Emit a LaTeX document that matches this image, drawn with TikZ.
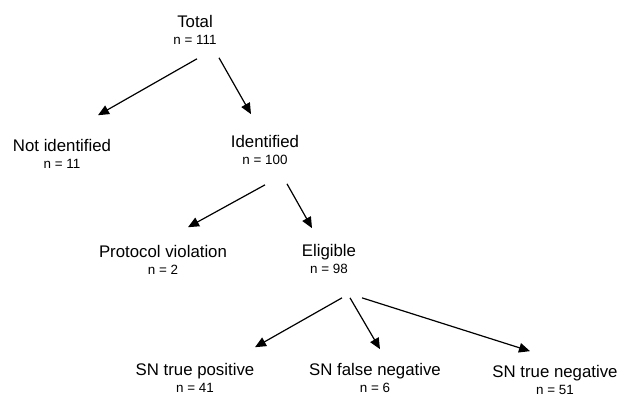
\documentclass[tikz,border=0pt]{standalone}
\usepackage{fontspec}
\setmainfont{Liberation Sans}
\usetikzlibrary{arrows.meta}
\newcommand{\nval}[1]{{\fontsize{6.7}{8}\selectfont n = #1}}
\begin{document}
\begin{tikzpicture}[x=0.5pt, y=-0.5pt,
  every node/.style={align=center, inner sep=0pt, font=\fontsize{8.4}{8.3}\selectfont},
  arr/.style={-{Triangle[length=5.5pt,width=4.8pt]}, line width=0.6pt}]
\useasboundingbox (0,0) rectangle (622,396);

% Groups
\node (total) at (195,30) {Total\\\nval{111}};
\node (notid) at (62,154) {Not identified\\\nval{11}};
\node (ident) at (265,150) {Identified\\\nval{100}};
\node (proto) at (163,260) {Protocol violation\\\nval{2}};
\node (elig) at (329,259) {Eligible\\\nval{98}};
\node (tpos) at (195,378) {SN true positive\\\nval{41}};
\node (fneg) at (375,378) {SN false negative\\\nval{6}};
\node (tneg) at (555,380) {SN true negative\\\nval{51}};

% Arrows
\draw[arr] ([shift={(2,14)}]total.south) -- ([shift={(36,-24)}]notid.north);
\draw[arr] ([shift={(24,13)}]total.south) -- ([shift={(-14,-21)}]ident.north);
\draw[arr] ([shift={(0,20)}]ident.south) -- ([shift={(25,-18)}]proto.north);
\draw[arr] ([shift={(22,19)}]ident.south) -- ([shift={(-17,-16)}]elig.north);
\draw[arr] ([shift={(13,24)}]elig.south) -- ([shift={(60,-16)}]tpos.north);
\draw[arr] ([shift={(21,24)}]elig.south) -- ([shift={(5,-14)}]fneg.north);
\draw[arr] ([shift={(33,24)}]elig.south) -- ([shift={(-25,-14)}]tneg.north);
\end{tikzpicture}
\end{document}
